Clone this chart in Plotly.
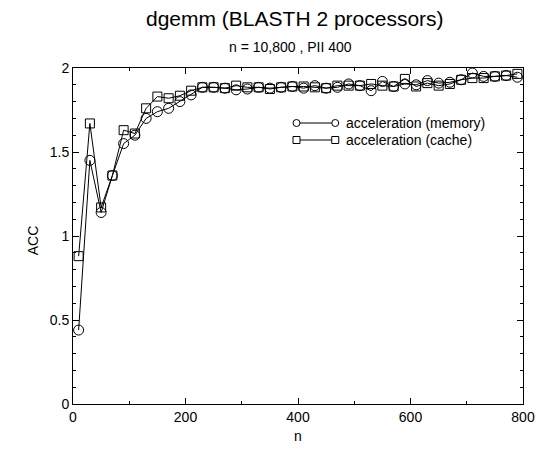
import plotly.graph_objects as go

n_values = [10, 30, 50, 70, 90, 110, 130, 150, 170, 190,
            210, 230, 250, 270, 290, 310, 330, 350, 370, 390,
            410, 430, 450, 470, 490, 510, 530, 550, 570, 590,
            610, 630, 650, 670, 690, 710, 730, 750, 770, 790]

acc_memory = [0.44, 1.45, 1.14, 1.36, 1.55, 1.60, 1.70, 1.74, 1.76, 1.80,
              1.84, 1.885, 1.885, 1.88, 1.87, 1.875, 1.885, 1.88, 1.885, 1.89,
              1.88, 1.895, 1.88, 1.885, 1.905, 1.895, 1.865, 1.92, 1.89, 1.905,
              1.90, 1.925, 1.91, 1.915, 1.93, 1.97, 1.95, 1.95, 1.955, 1.945]

acc_cache = [0.88, 1.67, 1.17, 1.36, 1.63, 1.61, 1.76, 1.83, 1.82, 1.835,
             1.865, 1.885, 1.885, 1.88, 1.895, 1.885, 1.885, 1.875, 1.885, 1.89,
             1.89, 1.885, 1.88, 1.895, 1.895, 1.895, 1.905, 1.895, 1.89, 1.935,
             1.89, 1.91, 1.895, 1.905, 1.93, 1.94, 1.94, 1.95, 1.955, 1.965]

series_names = ["acceleration (memory)", "acceleration (cache)"]

# page offset (default body margin) compensated in figure size
OFF = 8
W, H = 547 - OFF, 452 - OFF
L, R, T, B = 73 - OFF, 21, 68 - OFF, 48
PW, PH = W - L - R, H - T - B

def px_x(p):  # screen pixel -> paper x
    return (p - OFF - L) / PW

def px_y(p):  # screen pixel -> paper y
    return (H - B - (p - OFF)) / PH

FONT = "Liberation Sans, Arial, sans-serif"

fig = go.Figure()
fig.add_trace(go.Scatter(
    x=n_values, y=acc_memory, mode="lines+markers", name=series_names[0],
    line=dict(color="black", width=1),
    marker=dict(symbol="circle-open", size=10, color="black", line=dict(width=1)),
    showlegend=False,
))
fig.add_trace(go.Scatter(
    x=n_values, y=acc_cache, mode="lines+markers", name=series_names[1],
    line=dict(color="black", width=1),
    marker=dict(symbol="square-open", size=9, color="black", line=dict(width=1)),
    showlegend=False,
))

axis_common = dict(
    showline=True, linecolor="black", linewidth=1, mirror="ticks",
    ticks="inside", ticklen=6, tickcolor="black", tickwidth=1,
    showgrid=False, zeroline=False,
    tickfont=dict(family=FONT, size=14, color="black"),
)

fig.update_xaxes(range=[0, 800], tick0=0, dtick=200,
                 minor=dict(dtick=100, ticks="inside", ticklen=3, tickcolor="black"),
                 **axis_common)
fig.update_yaxes(range=[0, 2], tick0=0, dtick=0.5,
                 minor=dict(dtick=0.1, ticks="inside", ticklen=3, tickcolor="black"),
                 **axis_common)

annotations = [
    dict(text="dgemm (BLASTH 2 processors)", x=px_x(296), y=px_y(18),
         font=dict(family=FONT, size=21, color="black")),
    dict(text="n = 10,800 , PII 400", x=px_x(292), y=px_y(47),
         font=dict(family=FONT, size=14, color="black")),
    dict(text="n", x=px_x(299), y=px_y(436),
         font=dict(family=FONT, size=14, color="black")),
    dict(text="ACC", x=px_x(33), y=px_y(240), textangle=-90,
         font=dict(family=FONT, size=14, color="black")),
]
for a in annotations:
    a.update(xref="paper", yref="paper", showarrow=False,
             xanchor="center", yanchor="middle")

shapes = []
legend_rows = [(123, "circle"), (140, "square")]
for (py, kind), name in zip(legend_rows, series_names):
    yy = px_y(py)
    shapes.append(dict(type="line", xref="paper", yref="paper",
                       x0=px_x(298), x1=px_x(337), y0=yy, y1=yy,
                       line=dict(color="black", width=1)))
    for xp in (298, 337):
        shapes.append(dict(type="circle" if kind == "circle" else "rect",
                           xref="paper", yref="paper",
                           xsizemode="pixel", ysizemode="pixel",
                           xanchor=px_x(xp), yanchor=yy,
                           x0=-3.5, x1=3.5, y0=-3.5, y1=3.5,
                           fillcolor="white", line=dict(color="black", width=1)))
    annotations.append(dict(text=name, xref="paper", yref="paper",
                            x=px_x(346), y=yy, xanchor="left", yanchor="middle",
                            showarrow=False,
                            font=dict(family=FONT, size=14, color="black")))

fig.update_layout(
    width=W, height=H,
    margin=dict(l=L, r=R, t=T, b=B),
    paper_bgcolor="white", plot_bgcolor="white",
    annotations=annotations, shapes=shapes,
    showlegend=False,
)

fig.write_html("out.html")
